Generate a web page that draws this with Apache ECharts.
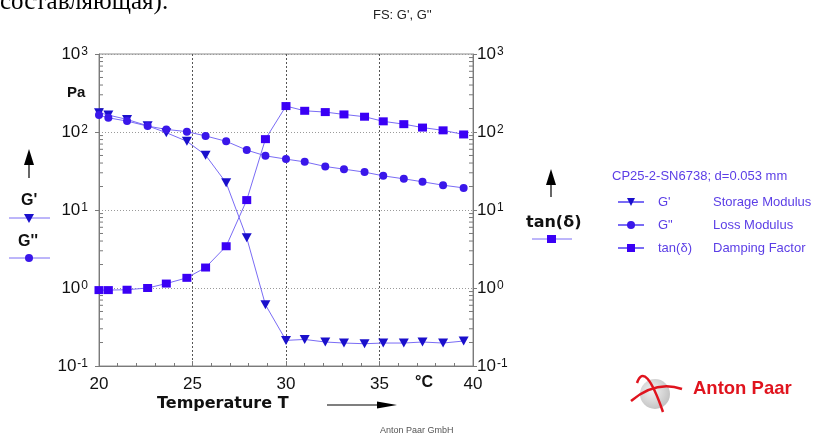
<!DOCTYPE html>
<html>
<head>
<meta charset="utf-8">
<script src="https://cdn.jsdelivr.net/npm/echarts@6/dist/echarts.min.js"></script>
<style>
html, body { margin: 0; padding: 0; background: #fff; }
#main { width: 818px; height: 435px; }
</style>
</head>
<body>
<div id="main"></div>
<script>
var temperature = [20.0, 20.5, 21.5, 22.6, 23.6, 24.7, 25.7, 26.8, 27.9, 28.9, 30.0, 31.0, 32.1, 33.1, 34.2, 35.2, 36.3, 37.3, 38.4, 39.5];
var storageModulus = [177, 165, 145, 120, 98, 76, 50.5, 22.3, 4.4, 0.61, 0.213, 0.219, 0.203, 0.197, 0.193, 0.197, 0.197, 0.203, 0.197, 0.209];
var lossModulus = [165, 152, 138, 119, 108, 101, 89, 76, 58.6, 49.5, 44.9, 41.4, 36.1, 33.4, 30.6, 27.4, 25.1, 23.0, 20.8, 19.2];
var dampingFactor = [0.94, 0.94, 0.95, 1.0, 1.14, 1.35, 1.83, 3.43, 13.4, 81, 215, 187, 180, 168, 157, 137, 126, 114, 105, 93];

var legendNames = ["G'", 'G"', 'tan(δ)'];
var legendDesc = ['Storage Modulus', 'Loss Modulus', 'Damping Factor'];

// log minor ticks (2..9 in every decade)
var minorMultipliers = [2, 3, 4, 5, 6, 7, 8, 9];
var decades = [0.1, 1, 10, 100];
var minorTicks = [];
decades.forEach(function (d) {
    minorMultipliers.forEach(function (m) { minorTicks.push([20, m * d]); });
});

function pairs(ys) {
    return temperature.map(function (t, i) { return [t, ys[i]]; });
}

var lineColor = '#7a6cf5';
var legendColor = '#5b3ee6';
var FONT = 'Liberation Sans';
var BOLD = 'DejaVu Sans';

function powLabel(v) {
    var e = Math.round(Math.log10(v));
    return '{b|10}{s|' + e + '}';
}
var powRich = {
    b: { fontSize: 17, lineHeight: 17, verticalAlign: 'bottom', color: '#111', fontFamily: FONT },
    s: { fontSize: 12, lineHeight: 12, verticalAlign: 'top', padding: [0, 0, 12, 1], color: '#111', fontFamily: FONT }
};

function arrowUp(x, tip, bottom) {
    return [
        { type: 'line', shape: { x1: x, y1: bottom, x2: x, y2: tip + 12 }, style: { stroke: '#000', lineWidth: 1.2 } },
        { type: 'polygon', shape: { points: [[x, tip], [x - 5, tip + 16], [x + 5, tip + 16]] }, style: { fill: '#000' } }
    ];
}

var myChart = echarts.init(document.getElementById('main'));

var graphics = [
    { type: 'text', left: 0, top: -10, style: { text: 'составляющая).', fontFamily: 'Liberation Serif', fontSize: 25, fill: '#000' } },
    { type: 'text', x: 373, y: 15, style: { text: "FS: G', G''", fontFamily: FONT, fontSize: 13, fill: '#222', verticalAlign: 'middle' } },
    { type: 'text', x: 67, y: 93, style: { text: 'Pa', fontFamily: FONT, fontSize: 15, fontWeight: 'bold', fill: '#111', verticalAlign: 'middle' } },
    { type: 'text', x: 21, y: 201, style: { text: "G'", fontFamily: FONT, fontSize: 16, fontWeight: 'bold', fill: '#111', verticalAlign: 'middle' } },
    { type: 'line', shape: { x1: 9, y1: 218, x2: 50, y2: 218 }, style: { stroke: lineColor, lineWidth: 1 } },
    { type: 'polygon', shape: { points: [[24, 214], [34, 214], [29, 223]] }, style: { fill: '#1a0fcc' } },
    { type: 'text', x: 18, y: 242, style: { text: "G''", fontFamily: FONT, fontSize: 16, fontWeight: 'bold', fill: '#111', verticalAlign: 'middle' } },
    { type: 'line', shape: { x1: 9, y1: 258, x2: 50, y2: 258 }, style: { stroke: lineColor, lineWidth: 1 } },
    { type: 'circle', shape: { cx: 29, cy: 258, r: 4 }, style: { fill: '#3a17ea' } },
    { type: 'text', x: 526, y: 223, style: { text: 'tan(δ)', fontFamily: BOLD, fontSize: 16, fontWeight: 'bold', fill: '#111', verticalAlign: 'middle' } },
    { type: 'line', shape: { x1: 532, y1: 239, x2: 572, y2: 239 }, style: { stroke: lineColor, lineWidth: 1 } },
    { type: 'rect', shape: { x: 547, y: 235, width: 9, height: 8 }, style: { fill: '#3a00f5' } },
    { type: 'text', x: 612, y: 176, style: { text: 'CP25-2-SN6738; d=0.053 mm', fontFamily: FONT, fontSize: 13, fill: legendColor, verticalAlign: 'middle' } },
    { type: 'text', x: 415, y: 383, style: { text: '°C', fontFamily: FONT, fontSize: 16, fontWeight: 'bold', fill: '#111', verticalAlign: 'middle' } },
    { type: 'text', x: 157, y: 404, style: { text: 'Temperature T', fontFamily: BOLD, fontSize: 16, fontWeight: 'bold', fill: '#111', verticalAlign: 'middle' } },
    { type: 'line', shape: { x1: 327, y1: 405, x2: 380, y2: 405 }, style: { stroke: '#000', lineWidth: 1.2 } },
    { type: 'polygon', shape: { points: [[397, 405], [377, 401.5], [377, 408.5]] }, style: { fill: '#000' } },
    { type: 'text', x: 380, y: 431, style: { text: 'Anton Paar GmbH', fontFamily: FONT, fontSize: 9, fill: '#555', verticalAlign: 'middle' } },
    // logo
    { type: 'circle', shape: { cx: 655, cy: 394, r: 15 }, style: { fill: new echarts.graphic.RadialGradient(0.4, 0.4, 0.7, [{ offset: 0, color: '#f2f2f2' }, { offset: 1, color: '#bdbdbd' }]) } },
    { type: 'bezierCurve', shape: { x1: 637, y1: 383, cpx1: 645, cpy1: 360, x2: 663, y2: 412 }, style: { stroke: '#e0141e', lineWidth: 2.5, fill: null } },
    { type: 'bezierCurve', shape: { x1: 631, y1: 401, cpx1: 656, cpy1: 380, x2: 682, y2: 389 }, style: { stroke: '#e0141e', lineWidth: 2.5, fill: null } },
    { type: 'text', x: 693, y: 389, style: { text: 'Anton Paar', fontFamily: FONT, fontSize: 18.5, fontWeight: 'bold', fill: '#e0141e', verticalAlign: 'middle' } }
];
graphics = graphics.concat(arrowUp(29, 149, 178), arrowUp(551, 169, 197));

var option = {
    backgroundColor: '#fff',
    animation: false,
    grid: { left: 99, right: 345, top: 54, bottom: 69, show: true, borderColor: '#8c8c8c', borderWidth: 1 },
    legend: {
        orient: 'vertical', left: 612, top: 190,
        itemWidth: 26, itemHeight: 10, itemGap: 9,
        data: legendNames,
        formatter: function (name) {
            var i = legendNames.indexOf(name);
            return '{n|' + name + '}{d|' + legendDesc[i] + '}';
        },
        textStyle: {
            color: legendColor, fontFamily: FONT, fontSize: 13, lineHeight: 14,
            rich: {
                n: { width: 55, padding: [0, 0, 0, 9], color: legendColor, fontFamily: FONT, fontSize: 13 },
                d: { color: legendColor, fontFamily: FONT, fontSize: 13 }
            }
        }
    },
    xAxis: {
        type: 'value', min: 20, max: 40, interval: 5,
        axisLine: { lineStyle: { color: '#7a7a7a' } },
        axisTick: { inside: true, length: 5, lineStyle: { color: '#7a7a7a' } },
        minorTick: { show: true, splitNumber: 5, length: 3, lineStyle: { color: '#7a7a7a' } },
        axisLabel: { margin: 10, fontSize: 17, color: '#111', fontFamily: FONT },
        splitLine: { show: true, lineStyle: { type: [2, 2], color: '#555' } }
    },
    yAxis: [
        {
            type: 'log', logBase: 10, min: 0.1, max: 1000,
            axisLine: { show: true, lineStyle: { color: '#7a7a7a' } },
            axisTick: { show: true, length: 4, lineStyle: { color: '#7a7a7a' } },
            axisLabel: { margin: 11, formatter: powLabel, rich: powRich },
            splitLine: { show: true, lineStyle: { type: [1, 2], color: '#9a9a9a' } }
        },
        {
            type: 'log', logBase: 10, min: 0.1, max: 1000, position: 'right',
            axisLine: { show: true, lineStyle: { color: '#7a7a7a' } },
            axisTick: { show: true, length: 4, lineStyle: { color: '#7a7a7a' } },
            axisLabel: { margin: 4, formatter: powLabel, rich: powRich },
            splitLine: { show: false }
        }
    ],
    series: [
        {
            name: "G'", type: 'line', yAxisIndex: 0, data: pairs(storageModulus),
            symbol: 'path://M0,0 L10,0 L5,9 Z', symbolSize: [10, 9],
            itemStyle: { color: '#1a0fcc' },
            lineStyle: { color: lineColor, width: 1 }
        },
        {
            name: 'G"', type: 'line', yAxisIndex: 0, data: pairs(lossModulus),
            symbol: 'circle', symbolSize: 8,
            itemStyle: { color: '#3a17ea' },
            lineStyle: { color: lineColor, width: 1 }
        },
        {
            name: 'tan(δ)', type: 'line', yAxisIndex: 1, data: pairs(dampingFactor),
            symbol: 'rect', symbolSize: [9, 8],
            itemStyle: { color: '#3a00f5' },
            lineStyle: { color: lineColor, width: 1 }
        },
        {
            name: 'minor', type: 'custom', yAxisIndex: 0, silent: true, z: 1,
            data: minorTicks,
            renderItem: function (params, api) {
                var y = api.coord([api.value(0), api.value(1)])[1];
                var cs = params.coordSys;
                return {
                    type: 'group',
                    children: [
                        { type: 'line', shape: { x1: cs.x, y1: y, x2: cs.x + 4, y2: y }, style: { stroke: '#7a7a7a', lineWidth: 1 } },
                        { type: 'line', shape: { x1: cs.x + cs.width - 4, y1: y, x2: cs.x + cs.width, y2: y }, style: { stroke: '#7a7a7a', lineWidth: 1 } }
                    ]
                };
            }
        }
    ],
    graphic: graphics
};

myChart.setOption(option);
</script>
</body>
</html>
